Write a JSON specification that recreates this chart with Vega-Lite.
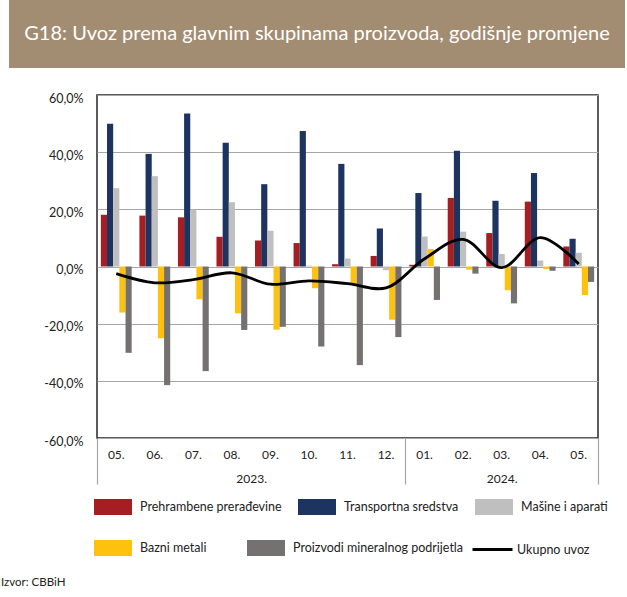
{
  "$schema": "https://vega.github.io/schema/vega-lite/v6.json",
  "padding": {"left": 1, "top": 0, "right": 0, "bottom": 0},
  "background": "white",
  "config": {"font": "Lato", "view": {"stroke": null}},
  "title": {"text": "Izvor: CBBiH", "orient": "bottom", "anchor": "start", "fontSize": 11.5, "fontWeight": "normal", "color": "#222", "dx": -8, "offset": 21},
  "spacing": 23,
  "datasets": {
    "bars1": [
      {"m": "2023-05", "s": "Prehrambene prerađevine", "v": 18.1},
      {"m": "2023-06", "s": "Prehrambene prerađevine", "v": 17.8},
      {"m": "2023-07", "s": "Prehrambene prerađevine", "v": 17.2},
      {"m": "2023-08", "s": "Prehrambene prerađevine", "v": 10.4},
      {"m": "2023-09", "s": "Prehrambene prerađevine", "v": 9.1},
      {"m": "2023-10", "s": "Prehrambene prerađevine", "v": 8.2},
      {"m": "2023-11", "s": "Prehrambene prerađevine", "v": 0.8},
      {"m": "2023-12", "s": "Prehrambene prerađevine", "v": 3.7},
      {"m": "2024-01", "s": "Prehrambene prerađevine", "v": 0.6},
      {"m": "2024-02", "s": "Prehrambene prerađevine", "v": 24.0},
      {"m": "2024-03", "s": "Prehrambene prerađevine", "v": 11.7},
      {"m": "2024-04", "s": "Prehrambene prerađevine", "v": 22.7},
      {"m": "2024-05", "s": "Prehrambene prerađevine", "v": 7.0},
      {"m": "2023-05", "s": "Transportna sredstva", "v": 49.9},
      {"m": "2023-06", "s": "Transportna sredstva", "v": 39.4},
      {"m": "2023-07", "s": "Transportna sredstva", "v": 53.5},
      {"m": "2023-08", "s": "Transportna sredstva", "v": 43.3},
      {"m": "2023-09", "s": "Transportna sredstva", "v": 28.8},
      {"m": "2023-10", "s": "Transportna sredstva", "v": 47.4},
      {"m": "2023-11", "s": "Transportna sredstva", "v": 35.9},
      {"m": "2023-12", "s": "Transportna sredstva", "v": 13.3},
      {"m": "2024-01", "s": "Transportna sredstva", "v": 25.7},
      {"m": "2024-02", "s": "Transportna sredstva", "v": 40.5},
      {"m": "2024-03", "s": "Transportna sredstva", "v": 23.0},
      {"m": "2024-04", "s": "Transportna sredstva", "v": 32.7},
      {"m": "2024-05", "s": "Transportna sredstva", "v": 9.7},
      {"m": "2023-05", "s": "Mašine i aparati", "v": 27.4},
      {"m": "2023-06", "s": "Mašine i aparati", "v": 31.6},
      {"m": "2023-07", "s": "Mašine i aparati", "v": 19.9},
      {"m": "2023-08", "s": "Mašine i aparati", "v": 22.5},
      {"m": "2023-09", "s": "Mašine i aparati", "v": 12.5},
      {"m": "2023-10", "s": "Mašine i aparati", "v": 0.3},
      {"m": "2023-11", "s": "Mašine i aparati", "v": 2.8},
      {"m": "2023-12", "s": "Mašine i aparati", "v": -1.3},
      {"m": "2024-01", "s": "Mašine i aparati", "v": 10.5},
      {"m": "2024-02", "s": "Mašine i aparati", "v": 12.2},
      {"m": "2024-03", "s": "Mašine i aparati", "v": 4.4},
      {"m": "2024-04", "s": "Mašine i aparati", "v": 2.1},
      {"m": "2024-05", "s": "Mašine i aparati", "v": 4.8}
    ],
    "bars2": [
      {"m": "2023-05", "s": "Bazni metali", "v": -16.1},
      {"m": "2023-06", "s": "Bazni metali", "v": -25.1},
      {"m": "2023-07", "s": "Bazni metali", "v": -11.5},
      {"m": "2023-08", "s": "Bazni metali", "v": -16.4},
      {"m": "2023-09", "s": "Bazni metali", "v": -22.1},
      {"m": "2023-10", "s": "Bazni metali", "v": -7.6},
      {"m": "2023-11", "s": "Bazni metali", "v": -6.1},
      {"m": "2023-12", "s": "Bazni metali", "v": -18.6},
      {"m": "2024-01", "s": "Bazni metali", "v": 6.1},
      {"m": "2024-02", "s": "Bazni metali", "v": -1.1},
      {"m": "2024-03", "s": "Bazni metali", "v": -8.3},
      {"m": "2024-04", "s": "Bazni metali", "v": -0.9},
      {"m": "2024-05", "s": "Bazni metali", "v": -10.0},
      {"m": "2023-05", "s": "Proizvodi mineralnog podrijetla", "v": -30.2},
      {"m": "2023-06", "s": "Proizvodi mineralnog podrijetla", "v": -41.5},
      {"m": "2023-07", "s": "Proizvodi mineralnog podrijetla", "v": -36.6},
      {"m": "2023-08", "s": "Proizvodi mineralnog podrijetla", "v": -22.2},
      {"m": "2023-09", "s": "Proizvodi mineralnog podrijetla", "v": -21.1},
      {"m": "2023-10", "s": "Proizvodi mineralnog podrijetla", "v": -28.0},
      {"m": "2023-11", "s": "Proizvodi mineralnog podrijetla", "v": -34.5},
      {"m": "2023-12", "s": "Proizvodi mineralnog podrijetla", "v": -24.7},
      {"m": "2024-01", "s": "Proizvodi mineralnog podrijetla", "v": -11.7},
      {"m": "2024-02", "s": "Proizvodi mineralnog podrijetla", "v": -2.5},
      {"m": "2024-03", "s": "Proizvodi mineralnog podrijetla", "v": -12.9},
      {"m": "2024-04", "s": "Proizvodi mineralnog podrijetla", "v": -1.5},
      {"m": "2024-05", "s": "Proizvodi mineralnog podrijetla", "v": -5.4}
    ],
    "total": [
      {"m": "2023-05", "v": -2.5},
      {"m": "2023-06", "v": -5.7},
      {"m": "2023-07", "v": -4.6},
      {"m": "2023-08", "v": -2.2},
      {"m": "2023-09", "v": -6.2},
      {"m": "2023-10", "v": -5.0},
      {"m": "2023-11", "v": -6.0},
      {"m": "2023-12", "v": -7.5},
      {"m": "2024-01", "v": 2.7},
      {"m": "2024-02", "v": 9.5},
      {"m": "2024-03", "v": -0.4},
      {"m": "2024-04", "v": 10.1},
      {"m": "2024-05", "v": 0.9}
    ],
    "years": [
      {"p": 0}, {"p": 8}, {"p": 13}
    ]
  },
  "vconcat": [
    {
      "width": 616,
      "height": 68,
      "view": {"fill": "#a28c72", "stroke": null},
      "data": {"values": [{"t": "G18: Uvoz prema glavnim skupinama proizvoda, godišnje promjene"}]},
      "mark": {"type": "text", "color": "white", "fontSize": 20, "font": "Lato", "baseline": "middle", "align": "center"},
      "encoding": {"text": {"field": "t", "type": "nominal"}}
    },
    {
      "spacing": 0,
      "hconcat": [
        {
          "width": 34,
          "height": 10,
          "view": {"stroke": null},
          "data": {"values": []},
          "mark": "point"
        },
        {
          "width": 501,
          "height": 343,
          "view": {"stroke": "#262626", "strokeWidth": 1.5},
          "resolve": {"scale": {"x": "independent"}, "axis": {"x": "independent"}},
          "layer": [
            {
              "layer": [
                {
                  "data": {"name": "bars1"},
                  "mark": {"type": "bar"},
                  "encoding": {
                    "x": {
                      "field": "m", "type": "nominal",
                      "scale": {"domain": ["2023-05","2023-06","2023-07","2023-08","2023-09","2023-10","2023-11","2023-12","2024-01","2024-02","2024-03","2024-04","2024-05"], "paddingInner": 0.2, "paddingOuter": 0.1},
                      "axis": {"title": null, "labelExpr": "slice(datum.value, 5) + '.'", "ticks": false, "domain": false, "grid": false, "labelAngle": 0, "labelPadding": 11, "labelFontSize": 12, "labelColor": "#222"}
                    },
                    "xOffset": {
                      "field": "s", "type": "nominal",
                      "scale": {"domain": ["Prehrambene prerađevine", "Transportna sredstva", "Mašine i aparati", "Bazni metali", "Proizvodi mineralnog podrijetla"]}
                    },
                    "y": {
                      "field": "v", "type": "quantitative",
                      "scale": {"domain": [-60, 60], "nice": false},
                      "axis": {"title": null, "values": [-60, -40, -20, 0, 20, 40, 60], "labelExpr": "replace(replace(format(datum.value, '.1f'), '.', ','), '\u2212', '-') + '%'", "ticks": false, "domain": false, "labelPadding": 14, "labelOffset": 3, "gridColor": "#a6a6a6", "gridWidth": 1.2, "labelFontSize": 12.5, "labelColor": "#222"}
                    },
                    "color": {
                      "field": "s", "type": "nominal",
                      "scale": {"domain": ["Prehrambene prerađevine", "Transportna sredstva", "Mašine i aparati"], "range": ["#a41e22", "#1d3461", "#bfbfbf"]},
                      "legend": {"title": null, "orient": "none", "legendX": 85, "legendY": 488, "direction": "horizontal", "symbolType": "M-1,-0.42H1V0.42H-1Z", "symbolSize": 1444, "symbolStrokeWidth": 0, "labelFontSize": 12.5, "labelColor": "#222", "labelOffset": 8, "columnPadding": 16, "labelLimit": 300}
                    }
                  }
                },
                {
                  "data": {"name": "bars2"},
                  "mark": {"type": "bar"},
                  "encoding": {
                    "x": {"field": "m", "type": "nominal"},
                    "xOffset": {"field": "s", "type": "nominal"},
                    "y": {"field": "v", "type": "quantitative"},
                    "fill": {
                      "field": "s", "type": "nominal",
                      "scale": {"domain": ["Bazni metali", "Proizvodi mineralnog podrijetla"], "range": ["#fdc10e", "#767171"]},
                      "legend": {"title": null, "orient": "none", "legendX": 85, "legendY": 529, "direction": "horizontal", "symbolType": "M-1,-0.42H1V0.42H-1Z", "symbolSize": 1444, "symbolStrokeWidth": 0, "labelFontSize": 12.5, "labelColor": "#222", "labelOffset": 8, "columnPadding": 40, "labelLimit": 300}
                    }
                  }
                },
                {
                  "data": {"name": "total"},
                  "mark": {"type": "line", "interpolate": "catmull-rom", "strokeWidth": 2.8},
                  "encoding": {
                    "x": {"field": "m", "type": "nominal"},
                    "y": {"field": "v", "type": "quantitative"},
                    "stroke": {
                      "datum": "Ukupno uvoz",
                      "scale": {"range": ["#000000"]},
                      "legend": {"title": null, "orient": "none", "legendX": 462, "legendY": 528, "symbolType": "stroke", "symbolSize": 1600, "symbolStrokeWidth": 3, "labelFontSize": 12.5, "labelColor": "#222", "labelOffset": 3, "labelLimit": 300}
                    }
                  }
                }
              ]
            },
            {
              "data": {"name": "years"},
              "mark": {"type": "rule", "opacity": 0},
              "encoding": {
                "x": {
                  "field": "p", "type": "quantitative",
                  "scale": {"domain": [0, 13], "nice": false, "zero": false},
                  "axis": {"orient": "bottom", "title": null, "values": [0, 4, 8, 10.5, 13], "grid": false, "domain": false, "tickSize": 46, "tickColor": "#a6a6a6", "tickWidth": 1.2, "tickOpacity": {"condition": {"test": "datum.value == 4 || datum.value == 10.5", "value": 0}, "value": 1}, "labelExpr": "datum.value == 4 ? '2023.' : datum.value == 10.5 ? '2024.' : ''", "labelPadding": -11, "labelFontSize": 12, "labelColor": "#222", "labelFlush": false, "labelOverlap": false}
                }
              }
            }
          ]
        }
      ]
    }
  ]
}
